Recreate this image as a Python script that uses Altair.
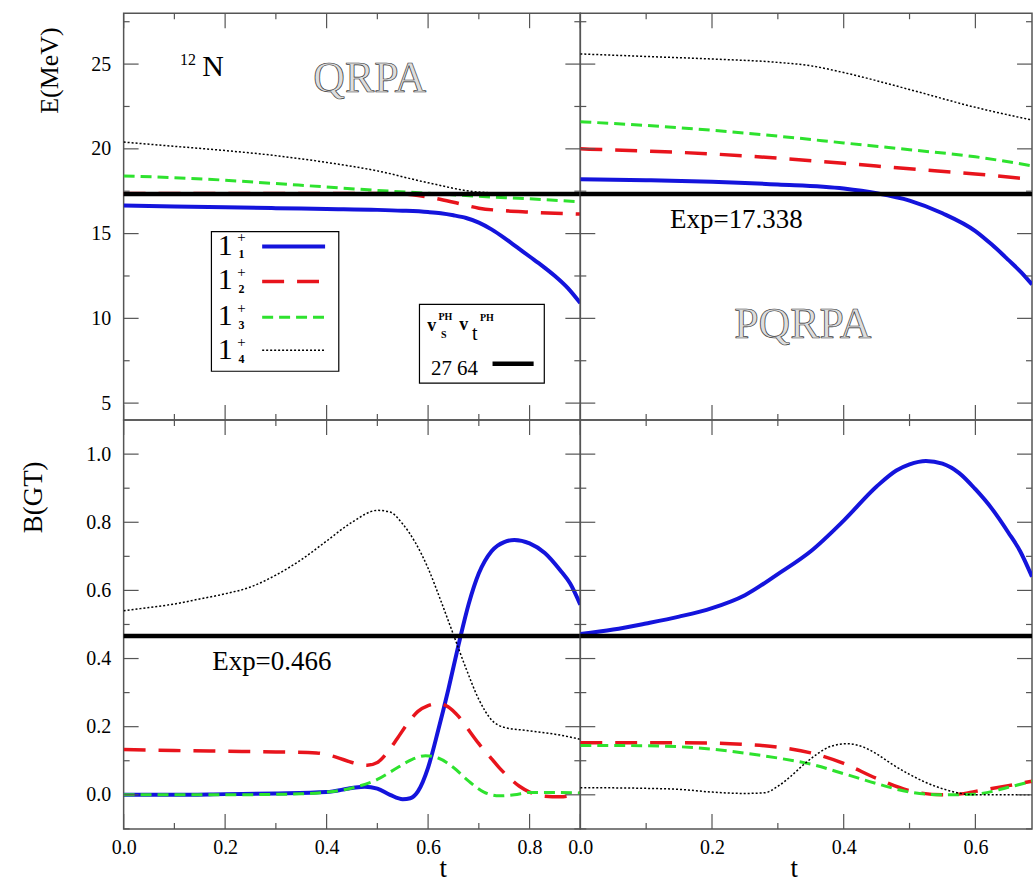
import altair as alt
import pandas as pd

SERIF = "Liberation Serif"
FRAME = "#555555"
BLUE = "#1414dc"
RED = "#e8141c"
GREEN = "#2ee22e"

# ---------------- data : QRPA, E(MeV) ----------------
qrpa_e_t1 = [0.0, 0.1, 0.2, 0.3, 0.4, 0.5, 0.55, 0.6, 0.625, 0.65, 0.675, 0.7, 0.725, 0.75, 0.775,
             0.8, 0.825, 0.85, 0.875, 0.9]
qrpa_e_1 = [16.66, 16.6, 16.55, 16.5, 16.45, 16.4, 16.35, 16.27, 16.2, 16.08, 15.92, 15.65, 15.25, 14.75, 14.2,
            13.65, 13.1, 12.5, 11.8, 10.9]
qrpa_e_t2 = [0.0, 0.1, 0.2, 0.3, 0.4, 0.5, 0.55, 0.6, 0.65, 0.7, 0.75, 0.8, 0.85, 0.9]
qrpa_e_2 = [17.36, 17.36, 17.36, 17.36, 17.36, 17.36, 17.33, 17.15, 16.85, 16.5, 16.35, 16.27, 16.2, 16.15]
qrpa_e_t3 = [0.0, 0.1, 0.2, 0.3, 0.4, 0.5, 0.6, 0.7, 0.8, 0.9]
qrpa_e_3 = [18.4, 18.3, 18.15, 17.95, 17.75, 17.55, 17.38, 17.2, 17.05, 16.88]
qrpa_e_t4 = [0.0, 0.1, 0.2, 0.3, 0.4, 0.5, 0.6, 0.7, 0.8, 0.9]
qrpa_e_4 = [20.4, 20.15, 19.9, 19.6, 19.2, 18.7, 18.0, 17.45, 17.35, 17.3]

# ---------------- data : PQRPA, E(MeV) ----------------
pqrpa_e_t1 = [0.0, 0.1, 0.2, 0.3, 0.4, 0.45, 0.5, 0.55, 0.6, 0.625, 0.65, 0.67, 0.686]
pqrpa_e_1 = [18.2, 18.15, 18.06, 17.9, 17.66, 17.38, 16.95, 16.2, 15.15, 14.35, 13.45, 12.7, 12.0]
pqrpa_e_t2 = [0.0, 0.1, 0.2, 0.3, 0.4, 0.5, 0.6, 0.686]
pqrpa_e_2 = [20.0, 19.87, 19.7, 19.45, 19.15, 18.82, 18.52, 18.2]
pqrpa_e_t3 = [0.0, 0.1, 0.2, 0.3, 0.4, 0.5, 0.6, 0.686]
pqrpa_e_3 = [21.6, 21.38, 21.1, 20.75, 20.35, 19.95, 19.53, 19.0]
pqrpa_e_t4 = [0.0, 0.1, 0.2, 0.3, 0.35, 0.4, 0.5, 0.6, 0.686]
pqrpa_e_4 = [25.6, 25.45, 25.3, 25.1, 24.9, 24.5, 23.5, 22.45, 21.7]

# ---------------- data : QRPA, B(GT) ----------------
qrpa_b_t1 = [0.0, 0.1, 0.2, 0.3, 0.4, 0.45, 0.475, 0.5, 0.525, 0.55, 0.565, 0.58, 0.6, 0.62,
             0.64, 0.66, 0.68, 0.7, 0.725, 0.75, 0.77, 0.8, 0.83, 0.86, 0.88, 0.9]
qrpa_b_1 = [0.0, 0.0, 0.002, 0.004, 0.008, 0.02, 0.024, 0.018, 0.0, -0.013, -0.01, 0.01, 0.08, 0.19,
            0.31, 0.44, 0.56, 0.65, 0.715, 0.742, 0.748, 0.738, 0.71, 0.66, 0.62, 0.558]
qrpa_b_t2 = [0.0, 0.1, 0.2, 0.3, 0.38, 0.42, 0.45, 0.48, 0.5, 0.52, 0.54, 0.56, 0.58, 0.6, 0.62,
             0.64, 0.66, 0.68, 0.7, 0.72, 0.74, 0.76, 0.78, 0.8, 0.83, 0.86, 0.9]
qrpa_b_2 = [0.133, 0.13, 0.128, 0.126, 0.123, 0.11, 0.095, 0.087, 0.095, 0.125, 0.167, 0.21, 0.245, 0.262,
            0.268, 0.258, 0.23, 0.19, 0.15, 0.115, 0.08, 0.05, 0.025, 0.008, -0.004, -0.006, 0.006]
qrpa_b_t3 = [0.0, 0.2, 0.35, 0.4, 0.45, 0.5, 0.54, 0.57, 0.595, 0.62, 0.65, 0.68, 0.71, 0.74,
             0.77, 0.8, 0.85, 0.9]
qrpa_b_3 = [0.0, 0.0, 0.003, 0.008, 0.02, 0.045, 0.08, 0.105, 0.115, 0.108, 0.08, 0.04, 0.008, -0.003,
            0.0, 0.007, 0.007, 0.005]
qrpa_b_t4 = [0.0, 0.05, 0.1, 0.15, 0.2, 0.25, 0.3, 0.35, 0.4, 0.45, 0.5, 0.525, 0.55, 0.575, 0.6,
             0.625, 0.65, 0.675, 0.7, 0.725, 0.75, 0.8, 0.85, 0.9]
qrpa_b_4 = [0.54, 0.55, 0.56, 0.575, 0.59, 0.61, 0.645, 0.69, 0.745, 0.80, 0.835, 0.83, 0.795, 0.74, 0.665,
            0.57, 0.47, 0.37, 0.28, 0.22, 0.198, 0.188, 0.178, 0.163]

# ---------------- data : PQRPA, B(GT) ----------------
pqrpa_b_t1 = [0.0, 0.05, 0.1, 0.15, 0.2, 0.25, 0.3, 0.35, 0.4, 0.45, 0.48, 0.5, 0.525, 0.55, 0.575,
              0.6, 0.625, 0.65, 0.668, 0.686]
pqrpa_b_1 = [0.472, 0.485, 0.503, 0.523, 0.548, 0.586, 0.648, 0.715, 0.805, 0.905, 0.952, 0.97, 0.98,
             0.972, 0.945, 0.897, 0.84, 0.77, 0.715, 0.64]
pqrpa_b_t2 = [0.0, 0.1, 0.2, 0.25, 0.3, 0.35, 0.4, 0.45, 0.5, 0.55, 0.575, 0.6, 0.65, 0.686]
pqrpa_b_2 = [0.153, 0.153, 0.152, 0.148, 0.14, 0.123, 0.092, 0.048, 0.012, 0.0, 0.002, 0.01, 0.027, 0.04]
pqrpa_b_t3 = [0.0, 0.1, 0.2, 0.25, 0.3, 0.35, 0.4, 0.45, 0.5, 0.55, 0.6, 0.65, 0.686]
pqrpa_b_3 = [0.145, 0.144, 0.134, 0.122, 0.108, 0.09, 0.062, 0.033, 0.008, 0.0, 0.002, 0.022, 0.04]
pqrpa_b_t4 = [0.0, 0.1, 0.15, 0.2, 0.25, 0.28, 0.3, 0.32, 0.34, 0.36, 0.38, 0.405, 0.43, 0.45, 0.475,
              0.5, 0.525, 0.55, 0.575, 0.6, 0.686]
pqrpa_b_4 = [0.021, 0.019, 0.016, 0.008, 0.004, 0.006, 0.025, 0.055, 0.09, 0.12, 0.142, 0.15, 0.14, 0.12,
             0.088, 0.06, 0.036, 0.018, 0.005, 0.0, 0.0]

EXP_E = 17.338
EXP_B = 0.466

# tick positions
x_major_left = [0.0, 0.2, 0.4, 0.6, 0.8]
x_minor_left = [0.1, 0.3, 0.5, 0.7]
x_major_right = [0.0, 0.2, 0.4, 0.6]
x_minor_right = [0.1, 0.3, 0.5]
e_major = [5, 10, 15, 20, 25]
e_minor = [7.5, 12.5, 17.5, 22.5, 27.5]
b_major = [0.0, 0.2, 0.4, 0.6, 0.8, 1.0]
b_minor = [-0.1, 0.1, 0.3, 0.5, 0.7, 0.9]

# legend labels
legend_states = ["1", "1", "1", "1"]
legend_subs = ["1", "2", "3", "4"]

WL, WR = 458, 453
HT, HB = 408, 410
XDOM_L = [0, 0.9]
XDOM_R = [0, 0.686]
YDOM_E = [4, 28]
YDOM_B = [-0.1, 1.1]

STY_BLUE = (BLUE, None, 4)
STY_RED = (RED, [22, 13], 3.5)
STY_GREEN = (GREEN, [11, 6], 3)
STY_BLACK = ("black", [2, 2], 1.5)


def series_list(t1, v1, t2, v2, t3, v3, t4, v4):
    return [(t1, v1) + STY_BLUE, (t2, v2) + STY_RED, (t3, v3) + STY_GREEN, (t4, v4) + STY_BLACK]


def make_panel(w, h, xdom, ydom, series, exp_val, xmaj, xmin, ymaj, ymin, xaxis, yaxis, extras):
    sx = alt.Scale(domain=xdom, nice=False, zero=False)
    sy = alt.Scale(domain=ydom, nice=False, zero=False)

    def X(f):
        return alt.X(f, type="quantitative", scale=sx, axis=xaxis)

    def Y(f):
        return alt.Y(f, type="quantitative", scale=sy, axis=yaxis)

    layers = []
    for ts, vs, col, dash, sw in series:
        df = pd.DataFrame({"t": ts, "v": vs})
        kw = dict(color=col, strokeWidth=sw, interpolate="monotone", clip=True)
        if dash:
            kw["strokeDash"] = dash
        layers.append(alt.Chart(df).mark_line(**kw).encode(x=X("t"), y=Y("v")))
    layers.append(
        alt.Chart(pd.DataFrame({"v": [exp_val]}))
        .mark_rule(color="black", strokeWidth=4.5)
        .encode(y=Y("v"), x=alt.value(0), x2=alt.value(w))
    )
    for vals, L in ((xmaj, 15), (xmin, 6)):
        b = alt.Chart(pd.DataFrame({"t": vals})).mark_rule(color=FRAME, strokeWidth=1.2)
        layers.append(b.encode(x=X("t"), y=alt.value(h), y2=alt.value(h - L)))
        layers.append(b.encode(x=X("t"), y=alt.value(0), y2=alt.value(L)))
    for vals, L in ((ymaj, 15), (ymin, 6)):
        b = alt.Chart(pd.DataFrame({"v": vals})).mark_rule(color=FRAME, strokeWidth=1.2)
        layers.append(b.encode(y=Y("v"), x=alt.value(0), x2=alt.value(L)))
        layers.append(b.encode(y=Y("v"), x=alt.value(w), x2=alt.value(w - L)))
    layers += extras(X, Y)
    return alt.layer(*layers).properties(width=w, height=h)


def text_layer(X, Y, rows, **mk):
    df = pd.DataFrame(rows, columns=["t", "v", "label"])
    base = dict(align="center", baseline="middle", color="black", font=SERIF)
    base.update(mk)
    return alt.Chart(df).mark_text(**base).encode(x=X("t"), y=Y("v"), text="label:N")


def box_layer(X, Y, t1, t2, v1, v2):
    df = pd.DataFrame({"t": [t1], "t2": [t2], "v": [v1], "v2": [v2]})
    return alt.Chart(df).mark_rect(fill="white", stroke="black", strokeWidth=1.2).encode(
        x=X("t"), x2="t2", y=Y("v"), y2="v2")


def sample_layer(X, Y, t1, t2, v, color, dash, sw):
    df = pd.DataFrame({"t": [t1], "t2": [t2], "v": [v]})
    kw = dict(color=color, strokeWidth=sw)
    if dash:
        kw["strokeDash"] = dash
    return alt.Chart(df).mark_rule(**kw).encode(x=X("t"), x2="t2", y=Y("v"))


def tl_extras(X, Y):
    out = []
    out.append(text_layer(X, Y, [[0.127, 25.22, "12"]], fontSize=16))
    out.append(text_layer(X, Y, [[0.176, 24.85, "N"]], fontSize=30))
    out.append(text_layer(X, Y, [[0.485, 24.12, "QRPA"]], fontSize=44,
                          fill="#dddddd", stroke="#333333", strokeWidth=0.7))
    # legend 1
    out.append(box_layer(X, Y, 0.173, 0.424, 15.12, 6.88))
    ys = [14.29, 12.24, 10.12, 8.12]
    line_ys = [14.24, 12.18, 10.06, 8.12]
    styles = [STY_BLUE, STY_RED, STY_GREEN, STY_BLACK]
    out.append(text_layer(X, Y, [[0.2, y, s] for y, s in zip(ys, legend_states)], fontSize=30))
    out.append(text_layer(X, Y, [[0.232, y + 0.5, "+"] for y in ys], fontSize=15))
    out.append(text_layer(X, Y, [[0.232, y - 0.5, s] for y, s in zip(ys, legend_subs)], fontSize=12,
                          fontWeight="bold"))
    for y, (c, d, sw) in zip(line_ys, styles):
        out.append(sample_layer(X, Y, 0.273, 0.397, y, c, d, sw))
    # legend 2
    out.append(box_layer(X, Y, 0.583, 0.829, 10.82, 6.18))
    out.append(text_layer(X, Y, [[0.607, 9.55, "v"], [0.670, 9.6, "v"]], fontSize=18, fontWeight="bold"))
    out.append(text_layer(X, Y, [[0.634, 10.06, "PH"], [0.716, 10.03, "PH"]], fontSize=10, fontWeight="bold"))
    out.append(text_layer(X, Y, [[0.631, 9.0, "S"]], fontSize=10, fontWeight="bold"))
    out.append(text_layer(X, Y, [[0.692, 9.1, "t"]], fontSize=20))
    out.append(text_layer(X, Y, [[0.652, 7.02, "27 64"]], fontSize=21))
    out.append(sample_layer(X, Y, 0.727, 0.808, 7.32, "black", None, 4.5))
    return out


def tr_extras(X, Y):
    return [
        text_layer(X, Y, [[0.237, 15.82, "Exp=17.338"]], fontSize=27),
        text_layer(X, Y, [[0.338, 9.62, "PQRPA"]], fontSize=44,
                   fill="#dddddd", stroke="#333333", strokeWidth=0.7),
    ]


def bl_extras(X, Y):
    return [text_layer(X, Y, [[0.292, 0.389, "Exp=0.466"]], fontSize=27)]


def br_extras(X, Y):
    return []


lab = dict(ticks=False, domain=False, grid=False, labelFont=SERIF, labelFontSize=20, labelColor="black",
           titleFont=SERIF, titleFontWeight="normal", titleColor="black")

ax_y_E = alt.Axis(values=e_major, format="d", labelPadding=13, title="E(MeV)", titleFontSize=26,
                  titleX=-74, titleY=57, titleAngle=270, titleAlign="center", titleBaseline="middle", **lab)
ax_y_B = alt.Axis(values=b_major, format=".1f", labelPadding=13, title="B(GT)", titleFontSize=27,
                  titleX=-90, titleY=77, titleAngle=270, titleAlign="center", titleBaseline="middle", **lab)
ax_x_L = alt.Axis(values=x_major_left, format=".1f", labelPadding=9, labelFlush=False, title="t",
                  titleFontSize=27, titleX=320, titleY=40, titleAlign="center", titleBaseline="middle", **lab)
ax_x_R = alt.Axis(values=x_major_right, format=".1f", labelPadding=9, labelFlush=False, title="t",
                  titleFontSize=27, titleX=214, titleY=40, titleAlign="center", titleBaseline="middle", **lab)

TL = make_panel(WL, HT, XDOM_L, YDOM_E,
                series_list(qrpa_e_t1, qrpa_e_1, qrpa_e_t2, qrpa_e_2, qrpa_e_t3, qrpa_e_3, qrpa_e_t4, qrpa_e_4),
                EXP_E, x_major_left, x_minor_left, e_major, e_minor, None, ax_y_E, tl_extras)
TR = make_panel(WR, HT, XDOM_R, YDOM_E,
                series_list(pqrpa_e_t1, pqrpa_e_1, pqrpa_e_t2, pqrpa_e_2, pqrpa_e_t3, pqrpa_e_3, pqrpa_e_t4, pqrpa_e_4),
                EXP_E, x_major_right, x_minor_right, e_major, e_minor, None, None, tr_extras)
BL = make_panel(WL, HB, XDOM_L, YDOM_B,
                series_list(qrpa_b_t1, qrpa_b_1, qrpa_b_t2, qrpa_b_2, qrpa_b_t3, qrpa_b_3, qrpa_b_t4, qrpa_b_4),
                EXP_B, x_major_left, x_minor_left, b_major, b_minor, ax_x_L, ax_y_B, bl_extras)
BR = make_panel(WR, HB, XDOM_R, YDOM_B,
                series_list(pqrpa_b_t1, pqrpa_b_1, pqrpa_b_t2, pqrpa_b_2, pqrpa_b_t3, pqrpa_b_3, pqrpa_b_t4, pqrpa_b_4),
                EXP_B, x_major_right, x_minor_right, b_major, b_minor, ax_x_R, None, br_extras)

chart = (
    alt.concat(TL, TR, BL, BR, columns=2, spacing=0, bounds="flush", align="each")
    .properties(padding={"left": 19, "top": 10, "right": 0, "bottom": 0}, background="white")
    .configure_view(stroke=FRAME, strokeWidth=1.5)
)

chart.save("out.html", embed_options={"renderer": "svg", "actions": False})
